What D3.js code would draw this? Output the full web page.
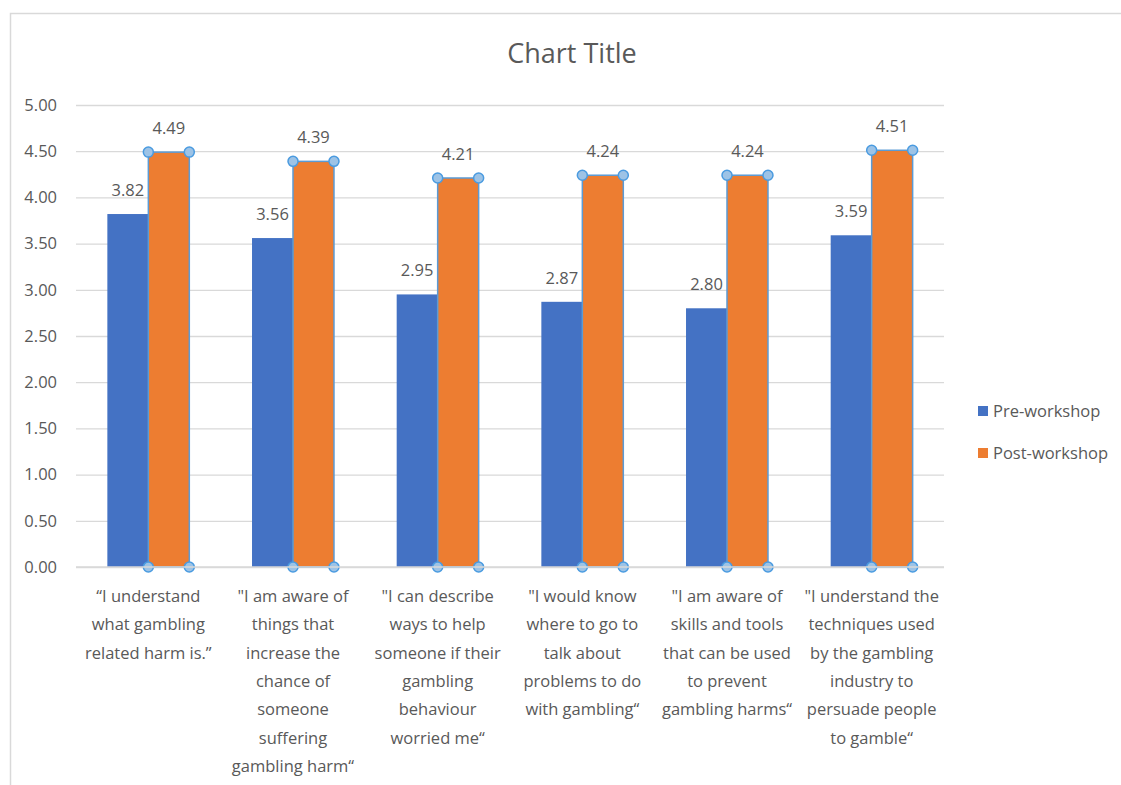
<!DOCTYPE html>
<html><head><meta charset="utf-8">
<script src="https://cdn.jsdelivr.net/npm/d3@7"></script>
<style>
html,body{margin:0;padding:0;background:#fff;}
svg{display:block;font-family:"Open Sans","Noto Sans",sans-serif;}
</style></head>
<body>
<svg id="chart" width="1121" height="785"></svg>
<script>
const categories = [
  ["“I understand","what gambling","related harm is.”"],
  ["\"I am aware of","things that","increase the","chance of","someone","suffering","gambling harm“"],
  ["\"I can describe","ways to help","someone if their","gambling","behaviour","worried me“"],
  ["\"I would know","where to go to","talk about","problems to do","with gambling“"],
  ["\"I am aware of","skills and tools","that can be used","to prevent","gambling harms“"],
  ["\"I understand the","techniques used","by the gambling","industry to","persuade people","to gamble“"]
];
const seriesNames = ["Pre-workshop","Post-workshop"];
const preWorkshop  = [3.82, 3.56, 2.95, 2.87, 2.80, 3.59];
const postWorkshop = [4.49, 4.39, 4.21, 4.24, 4.24, 4.51];
const yTicks = [0,0.5,1,1.5,2,2.5,3,3.5,4,4.5,5];
const chartTitle = "Chart Title";

const colors = ["#4472C4","#ED7D31"];
const textCol = "#595959";
const gridCol = "#d9d9d9";
const fs = 16.5;
const svg = d3.select("#chart");

// frame
svg.append("path").attr("d","M10.5,785 L10.5,13.5 L1121,13.5")
  .attr("fill","none").attr("stroke","#d9d9d9").attr("stroke-width",1.5);

const pLeft=76, pRight=944, pTop=105, pBottom=567;
const idx = categories.map((c,i)=>i);
const x0 = d3.scaleBand().domain(idx).range([pLeft,pRight]).padding(0);
const x1 = d3.scaleBand().domain([0,1]).range([0,x0.bandwidth()]).paddingInner(0).paddingOuter(0.765);
const y = d3.scaleLinear().domain([0,5]).range([pBottom,pTop]);

// title
svg.append("text").attr("x",572).attr("y",63)
  .attr("text-anchor","middle").attr("fill",textCol).attr("font-size",27)
  .text(chartTitle);

// gridlines
const yAxis = d3.axisLeft(y).tickValues(yTicks).tickFormat(d3.format(".2f")).tickSize(-(pRight-pLeft)).tickPadding(19);
const gy = svg.append("g").attr("transform",`translate(${pLeft},0)`).call(yAxis);
gy.select(".domain").remove();
gy.selectAll(".tick line").attr("stroke",gridCol).attr("stroke-width",1.3);
gy.selectAll(".tick text").attr("fill",textCol).attr("font-size",fs).attr("font-family","'Open Sans',sans-serif");

// bars
const series = [preWorkshop, postWorkshop];
series.forEach((vals,s)=>{
  const g = svg.append("g");
  g.selectAll("rect").data(vals).join("rect")
    .attr("x",(d,i)=>x0(i)+x1(s))
    .attr("y",d=>y(d))
    .attr("width",x1.bandwidth())
    .attr("height",d=>y(0)-y(d))
    .attr("fill",colors[s])
    .attr("stroke",s===1?"#5B9BD5":"none")
    .attr("stroke-width",s===1?1.5:0);
  g.selectAll("text").data(vals).join("text")
    .attr("x",(d,i)=>x0(i)+x1(s)+x1.bandwidth()/2)
    .attr("y",d=>y(d)-18)
    .attr("text-anchor","middle").attr("fill",textCol).attr("font-size",fs)
    .text(d=>d.toFixed(2));
  if(s===1){
    const handles=[];
    vals.forEach((d,i)=>{
      const xl=x0(i)+x1(s), xr=xl+x1.bandwidth();
      handles.push([xl,y(d)],[xr,y(d)],[xl,y(0)],[xr,y(0)]);
    });
    g.selectAll("circle").data(handles).join("circle")
      .attr("cx",d=>d[0]).attr("cy",d=>d[1]).attr("r",5)
      .attr("fill","#9DC3E6").attr("stroke","#4A9BE0").attr("stroke-width",1.5);
  }
});

// baseline
svg.append("line").attr("x1",pLeft).attr("x2",pRight).attr("y1",y(0)).attr("y2",y(0))
  .attr("stroke",gridCol).attr("stroke-width",1.3);
svg.selectAll("circle").raise();

// category labels
const cg = svg.append("g");
categories.forEach((lines,i)=>{
  const t = cg.append("text").attr("x",x0(i)+x0.bandwidth()/2).attr("y",602)
    .attr("text-anchor","middle").attr("fill",textCol).attr("font-size",fs);
  lines.forEach((ln,j)=>{
    t.append("tspan").attr("x",x0(i)+x0.bandwidth()/2).attr("y",602+j*28.3).text(ln);
  });
});

// legend
const lg = svg.append("g");
seriesNames.forEach((n,s)=>{
  const yy = 411 + s*42;
  lg.append("rect").attr("x",978).attr("y",yy-5).attr("width",10).attr("height",10).attr("fill",colors[s]);
  lg.append("text").attr("x",993).attr("y",yy+6).attr("fill",textCol).attr("font-size",fs).text(n);
});
</script>
</body></html>
